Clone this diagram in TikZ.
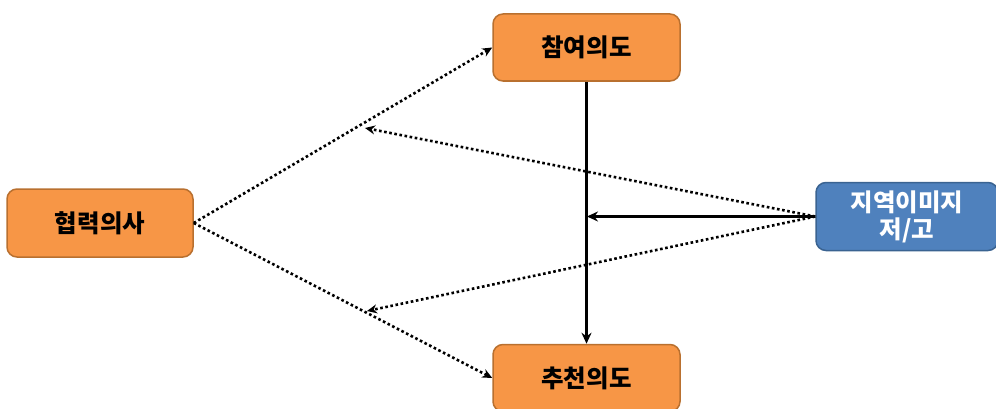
\documentclass[tikz,border=0pt]{standalone}
\usepackage{fontspec}
\newfontfamily\kr{Noto Sans CJK KR}
\usetikzlibrary{arrows.meta}
\definecolor{boxorange}{HTML}{F79646}
\definecolor{edgeorange}{HTML}{B9702F}
\definecolor{boxblue}{HTML}{4F81BD}
\definecolor{edgeblue}{HTML}{3A6391}
\tikzset{
  construct/.style={draw=edgeorange, fill=boxorange, line width=1.5pt,
    rounded corners=10pt, minimum width=187pt, minimum height=67pt,
    inner sep=0pt, align=center, font=\kr\bfseries\fontsize{24.5}{27}\selectfont},
  moderator/.style={construct, draw=edgeblue, fill=boxblue, text=white},
  dotlink/.style={line width=2.6pt, dash pattern=on 2.6pt off 2.6pt,
    -{Stealth[length=10pt,width=9pt]}},
  solidlink/.style={line width=2.6pt, -{Stealth[length=11pt,width=10pt]}}
}
\begin{document}
\begin{tikzpicture}[x=1pt,y=1pt]
  \useasboundingbox (0,0) rectangle (996,408);
  % constructs
  \node[construct] (cham) at (586.5,360.5) {참여의도};
  \node[construct] (chu) at (586.5,30) {추천의도};
  \node[construct, minimum width=186pt, minimum height=68pt] (hyup) at (100,185) {협력의사};
  \node[moderator, minimum width=182pt, minimum height=68pt] (region) at (907,191.5) {지역이미지\\저/고};
  % moderation targets on the paths
  \coordinate (modup) at (365,280);
  \coordinate (moddown) at (367,97);
  \coordinate (modmid) at (587,191.5);
  % paths
  \draw[dotlink] (hyup.east) -- (cham.west);
  \draw[dotlink] (hyup.east) -- (chu.west);
  \draw[solidlink] (cham.south) -- (chu.north);
  \draw[dotlink] (region.west) -- (modup);
  \draw[dotlink] (region.west) -- (moddown);
  \draw[solidlink] (region.west) -- (modmid);
\end{tikzpicture}
\end{document}
